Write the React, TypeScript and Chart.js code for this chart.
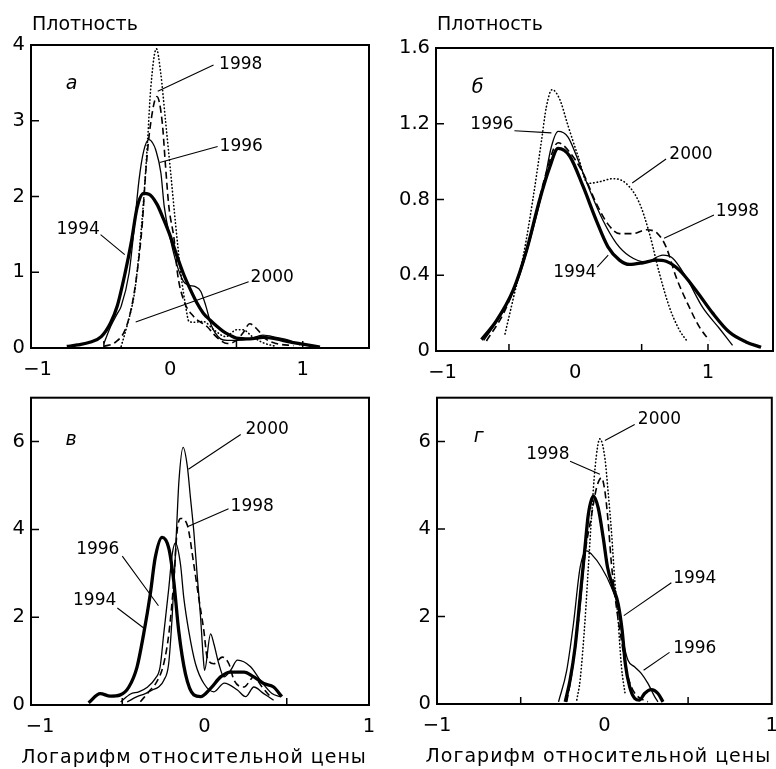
import React, { useEffect, useRef } from 'react';
import { Chart, registerables } from 'chart.js';
Chart.register(...registerables);

const FONT = '"DejaVu Sans", Verdana, sans-serif';
const Y_TITLE = 'Плотность';
const X_TITLE = 'Логарифм относительной цены';
const YEARS = ['2000', '1998', '1996', '1994'];

// ---------- Panel а ----------
const a1994X = [-0.78, -0.7, -0.6, -0.52, -0.45, -0.4, -0.34, -0.29, -0.25, -0.2, -0.16, -0.1, -0.05, 0.0, 0.05, 0.1, 0.15, 0.2, 0.25, 0.3, 0.35, 0.4, 0.45, 0.5, 0.6, 0.7, 0.8, 0.9, 1.0, 1.1, 1.13];
const a1994Y = [0.02, 0.04, 0.08, 0.15, 0.33, 0.55, 0.99, 1.43, 1.85, 2.04, 2.03, 1.9, 1.7, 1.48, 1.22, 0.98, 0.78, 0.6, 0.46, 0.37, 0.29, 0.22, 0.17, 0.13, 0.12, 0.14, 0.12, 0.08, 0.05, 0.02, 0.01];
const a1996X = [-0.5, -0.45, -0.4, -0.37, -0.31, -0.27, -0.235, -0.2, -0.16, -0.13, -0.11, -0.07, -0.045, 0.0, 0.05, 0.1, 0.14, 0.19, 0.23, 0.27, 0.31, 0.34, 0.38, 0.43, 0.5, 0.6, 0.7, 0.8, 0.9, 0.98];
const a1996Y = [0.06, 0.28, 0.45, 0.55, 0.99, 1.61, 2.22, 2.6, 2.75, 2.7, 2.62, 2.31, 1.87, 1.45, 1.1, 0.88, 0.83, 0.81, 0.75, 0.55, 0.3, 0.2, 0.12, 0.1, 0.1, 0.12, 0.17, 0.14, 0.1, 0.04];
const a1998X = [-0.5, -0.41, -0.34, -0.29, -0.25, -0.21, -0.185, -0.15, -0.1, -0.06, -0.035, -0.01, 0.03, 0.055, 0.1, 0.18, 0.28, 0.33, 0.38, 0.43, 0.5, 0.55, 0.6, 0.66, 0.72, 0.8, 0.93];
const a1998Y = [0.02, 0.08, 0.24, 0.55, 0.99, 1.65, 2.31, 2.93, 3.32, 2.98, 2.4, 1.87, 1.43, 0.99, 0.64, 0.41, 0.28, 0.18, 0.1, 0.06, 0.1, 0.2, 0.32, 0.24, 0.12, 0.06, 0.03];
const a2000X = [-0.37, -0.32, -0.27, -0.235, -0.2, -0.17, -0.147, -0.104, -0.072, -0.034, 0.004, 0.04, 0.08, 0.117, 0.142, 0.18, 0.25, 0.33, 0.42, 0.5, 0.55, 0.62, 0.7, 0.8];
const a2000Y = [0.02, 0.33, 0.72, 1.25, 1.96, 2.75, 3.42, 3.95, 3.64, 2.98, 2.31, 1.65, 0.99, 0.55, 0.35, 0.34, 0.35, 0.24, 0.15, 0.24, 0.24, 0.15, 0.07, 0.02];

// ---------- Panel б ----------
const b1994X = [-0.707, -0.594, -0.469, -0.368, -0.268, -0.193, -0.13, -0.043, 0.058, 0.158, 0.246, 0.333, 0.409, 0.509, 0.609, 0.684, 0.784, 0.91, 1.035, 1.16, 1.286, 1.4];
const b1994Y = [0.06, 0.16, 0.32, 0.53, 0.8, 0.97, 1.07, 1.03, 0.87, 0.69, 0.55, 0.48, 0.457, 0.466, 0.48, 0.474, 0.427, 0.32, 0.2, 0.1, 0.048, 0.02];
const b1996X = [-0.69, -0.57, -0.44, -0.34, -0.24, -0.18, -0.13, -0.055, 0.02, 0.108, 0.208, 0.308, 0.41, 0.53, 0.66, 0.734, 0.835, 0.96, 1.085, 1.185];
const b1996Y = [0.056, 0.18, 0.36, 0.59, 0.87, 1.08, 1.16, 1.13, 1.01, 0.85, 0.69, 0.57, 0.5, 0.47, 0.506, 0.49, 0.39, 0.23, 0.12, 0.03];
const b1998X = [-0.67, -0.54, -0.42, -0.32, -0.22, -0.13, -0.043, 0.058, 0.158, 0.246, 0.333, 0.434, 0.534, 0.62, 0.684, 0.76, 0.86, 0.935, 1.01];
const b1998Y = [0.053, 0.2, 0.41, 0.66, 0.94, 1.1, 1.05, 0.94, 0.78, 0.67, 0.62, 0.62, 0.64, 0.62, 0.55, 0.39, 0.23, 0.127, 0.056];
const b2000X = [-0.53, -0.47, -0.39, -0.32, -0.255, -0.218, -0.175, -0.118, -0.055, 0.02, 0.095, 0.183, 0.283, 0.383, 0.484, 0.559, 0.634, 0.71, 0.785, 0.847];
const b2000Y = [0.09, 0.27, 0.51, 0.8, 1.11, 1.29, 1.38, 1.33, 1.19, 1.03, 0.885, 0.894, 0.91, 0.885, 0.78, 0.62, 0.41, 0.23, 0.11, 0.048];

// ---------- Panel в ----------
const v1994X = [-0.705, -0.634, -0.573, -0.512, -0.46, -0.41, -0.37, -0.33, -0.3, -0.258, -0.217, -0.187, -0.157, -0.116, -0.065, -0.024, 0.037, 0.098, 0.159, 0.24, 0.3, 0.36, 0.42, 0.47];
const v1994Y = [0.05, 0.26, 0.2, 0.23, 0.41, 0.87, 1.62, 2.52, 3.35, 3.82, 3.57, 2.82, 1.69, 0.71, 0.23, 0.19, 0.38, 0.64, 0.75, 0.75, 0.64, 0.49, 0.41, 0.19];
const v1996X = [-0.51, -0.45, -0.4, -0.35, -0.3, -0.27, -0.248, -0.217, -0.197, -0.177, -0.146, -0.126, -0.096, -0.055, -0.004, 0.057, 0.12, 0.2, 0.25, 0.3, 0.36, 0.42];
const v1996Y = [0.07, 0.25, 0.3, 0.4, 0.6, 0.87, 1.62, 2.67, 3.42, 3.69, 3.2, 2.44, 1.69, 0.94, 0.49, 0.3, 0.5, 0.34, 0.19, 0.41, 0.26, 0.11];
const v1998X = [-0.39, -0.33, -0.29, -0.248, -0.217, -0.187, -0.167, -0.146, -0.105, -0.065, -0.035, -0.004, 0.016, 0.057, 0.108, 0.148, 0.18, 0.24, 0.3, 0.35, 0.4];
const v1998Y = [0.075, 0.34, 0.53, 0.94, 1.62, 2.82, 3.95, 4.25, 4.1, 3.2, 2.44, 1.69, 1.09, 0.94, 1.09, 0.94, 0.56, 0.41, 0.64, 0.41, 0.19];
const v2000X = [-0.47, -0.41, -0.36, -0.32, -0.279, -0.248, -0.218, -0.197, -0.18, -0.167, -0.156, -0.13, -0.105, -0.085, -0.065, -0.045, -0.024, -0.008, 0.0, 0.037, 0.057, 0.087, 0.118, 0.16, 0.2, 0.28, 0.34, 0.41, 0.46];
const v2000Y = [0.07, 0.19, 0.26, 0.34, 0.41, 0.56, 0.94, 2.0, 3.2, 4.25, 5.08, 5.87, 5.45, 4.7, 3.95, 2.97, 2.0, 1.09, 0.79, 1.62, 1.39, 0.94, 0.64, 0.8, 1.02, 0.87, 0.56, 0.26, 0.19];

// ---------- Panel г ----------
const g1994X = [-0.234, -0.205, -0.175, -0.145, -0.116, -0.096, -0.066, -0.037, -0.007, 0.019, 0.052, 0.082, 0.106, 0.125, 0.151, 0.181, 0.21, 0.24, 0.28, 0.32, 0.35];
const g1994Y = [0.05, 0.55, 1.3, 2.44, 3.58, 4.33, 4.75, 4.48, 3.8, 3.12, 2.67, 2.29, 1.68, 0.92, 0.39, 0.13, 0.09, 0.24, 0.33, 0.24, 0.05];
const g1996X = [-0.274, -0.225, -0.185, -0.145, -0.106, -0.076, -0.017, 0.042, 0.082, 0.112, 0.141, 0.18, 0.22, 0.26, 0.3, 0.32];
const g1996Y = [0.05, 0.77, 1.83, 3.12, 3.5, 3.42, 3.12, 2.67, 2.21, 1.45, 1.0, 0.85, 0.7, 0.47, 0.17, 0.05];
const g1998X = [-0.225, -0.195, -0.155, -0.116, -0.076, -0.047, -0.017, 0.003, 0.022, 0.042, 0.072, 0.102, 0.131, 0.161, 0.2, 0.26];
const g1998Y = [0.05, 0.7, 1.9, 3.42, 4.33, 4.94, 5.17, 4.86, 4.18, 3.2, 2.21, 1.45, 0.77, 0.39, 0.17, 0.05];
const g2000X = [-0.165, -0.145, -0.116, -0.096, -0.076, -0.056, -0.027, 0.003, 0.022, 0.042, 0.062, 0.082, 0.102, 0.125];
const g2000Y = [0.09, 0.55, 1.9, 3.12, 4.33, 5.39, 6.06, 5.62, 4.86, 3.95, 2.82, 1.9, 0.85, 0.2];

// tick labels
const xLabelValues = [-1, 0, 1];
const yLabelsA = [0, 1, 2, 3, 4];
const yLabelsB = [0, 0.4, 0.8, 1.2, 1.6];
const yLabelsVG = [0, 2, 4, 6];

// callouts in data coordinates: label centre, leader line start/end
type Callout = { year: string; tx: number; ty: number; x1: number; y1: number; x2: number; y2: number };
const calloutsA: Callout[] = [
  { year: '1998', tx: 0.532, ty: 3.735, x1: 0.327, y1: 3.735, x2: -0.094, y2: 3.39 },
  { year: '1996', tx: 0.536, ty: 2.66, x1: 0.358, y1: 2.66, x2: -0.079, y2: 2.45 },
  { year: '1994', tx: -0.694, ty: 1.563, x1: -0.525, y1: 1.497, x2: -0.343, y2: 1.232 },
  { year: '2000', tx: 0.77, ty: 0.927, x1: 0.592, y1: 0.874, x2: -0.26, y2: 0.344 },
];
const calloutsB: Callout[] = [
  { year: '1996', tx: -0.628, ty: 1.194, x1: -0.459, y1: 1.163, x2: -0.18, y2: 1.152 },
  { year: '2000', tx: 0.872, ty: 1.036, x1: 0.684, y1: 1.014, x2: 0.429, y2: 0.887 },
  { year: '1998', tx: 1.222, ty: 0.734, x1: 1.045, y1: 0.718, x2: 0.669, y2: 0.596 },
  { year: '1994', tx: -0.004, ty: 0.416, x1: 0.165, y1: 0.443, x2: 0.248, y2: 0.506 },
];
const calloutsV: Callout[] = [
  { year: '2000', tx: 0.381, ty: 6.275, x1: 0.22, y1: 6.16, x2: -0.098, y2: 5.37 },
  { year: '1998', tx: 0.29, ty: 4.51, x1: 0.146, y1: 4.47, x2: -0.104, y2: 4.06 },
  { year: '1996', tx: -0.649, ty: 3.54, x1: -0.5, y1: 3.39, x2: -0.28, y2: 2.26 },
  { year: '1994', tx: -0.668, ty: 2.39, x1: -0.53, y1: 2.21, x2: -0.372, y2: 1.76 },
];
const calloutsG: Callout[] = [
  { year: '2000', tx: 0.329, ty: 6.5, x1: 0.181, y1: 6.39, x2: 0.003, y2: 6.02 },
  { year: '1998', tx: -0.338, ty: 5.7, x1: -0.205, y1: 5.55, x2: -0.027, y2: 5.25 },
  { year: '1994', tx: 0.54, ty: 2.86, x1: 0.4, y1: 2.77, x2: 0.116, y2: 2.02 },
  { year: '1996', tx: 0.54, ty: 1.27, x1: 0.389, y1: 1.18, x2: 0.234, y2: 0.77 },
];

type LineStyle = { width: number; dash: number[]; cap: CanvasLineCap };
const THICK: LineStyle = { width: 3.3, dash: [], cap: 'butt' };
const THIN: LineStyle = { width: 1.3, dash: [], cap: 'butt' };
const DASHED: LineStyle = { width: 1.6, dash: [7, 4], cap: 'butt' };
const DOTTED: LineStyle = { width: 1.6, dash: [0.5, 3], cap: 'round' };
const STYLE: Record<string, LineStyle> = { '1994': THICK, '1996': THIN, '1998': DASHED, '2000': DOTTED };

type Panel = {
  key: string;
  letter: string;
  letterX: number;
  letterY: number;
  series: Record<string, [number[], number[]]>;
  styleOverride?: Record<string, LineStyle>;
  callouts: Callout[];
  xMin: number; xMax: number; yMax: number;
  yLabels: number[];
  xMarks: number[];
  yMarks: number[];
  yFmt: (v: number) => string;
  showYTitle: boolean;
  showXTitle: boolean;
  box: { left: number; top: number; w: number; h: number };
  pad: { top: number; right: number };
  yAxisW: number; xAxisH: number;
};

const intFmt = (v: number) => (v < 0 ? '\u2212' + Math.abs(v) : String(v));
const decFmt = (v: number) => (v === 0 ? '0' : v.toFixed(1));

const PANELS: Panel[] = [
  {
    key: 'a', letter: 'а', letterX: -0.743, letterY: 3.48,
    series: { '2000': [a2000X, a2000Y], '1998': [a1998X, a1998Y], '1996': [a1996X, a1996Y], '1994': [a1994X, a1994Y] },
    callouts: calloutsA, xMin: -1.05, xMax: 1.5, yMax: 4, yLabels: yLabelsA,
    xMarks: [-0.5, 0.5, 1], yMarks: [1, 2, 3], yFmt: intFmt, showYTitle: true, showXTitle: false,
    box: { left: 0, top: 0, w: 388, h: 380 }, pad: { top: 45, right: 19 }, yAxisW: 31, xAxisH: 32,
  },
  {
    key: 'b', letter: 'б', letterX: -0.737, letterY: 1.39,
    series: { '2000': [b2000X, b2000Y], '1998': [b1998X, b1998Y], '1996': [b1996X, b1996Y], '1994': [b1994X, b1994Y] },
    callouts: calloutsB, xMin: -1.05, xMax: 1.49, yMax: 1.6, yLabels: yLabelsB,
    xMarks: [-0.5, 0.5, 1], yMarks: [0.4, 0.8, 1.2], yFmt: decFmt, showYTitle: true, showXTitle: false,
    box: { left: 388, top: 0, w: 400, h: 380 }, pad: { top: 48, right: 15 }, yAxisW: 48, xAxisH: 29,
  },
  {
    key: 'v', letter: 'в', letterX: -0.811, letterY: 6.03,
    series: { '2000': [v2000X, v2000Y], '1998': [v1998X, v1998Y], '1996': [v1996X, v1996Y], '1994': [v1994X, v1994Y] },
    styleOverride: { '2000': THIN },
    callouts: calloutsV, xMin: -1.055, xMax: 1.0, yMax: 7, yLabels: yLabelsVG,
    xMarks: [-0.5, 0.5], yMarks: [2, 4, 6], yFmt: intFmt, showYTitle: false, showXTitle: true,
    box: { left: 0, top: 380, w: 388, h: 389 }, pad: { top: 14, right: 19 }, yAxisW: 31, xAxisH: 64,
  },
  {
    key: 'g', letter: 'г', letterX: -0.751, letterY: 6.11,
    series: { '2000': [g2000X, g2000Y], '1998': [g1998X, g1998Y], '1996': [g1996X, g1996Y], '1994': [g1994X, g1994Y] },
    callouts: calloutsG, xMin: -1.0, xMax: 1.0, yMax: 7, yLabels: yLabelsVG,
    xMarks: [-0.5, 0.5], yMarks: [2, 4, 6], yFmt: intFmt, showYTitle: false, showXTitle: true,
    box: { left: 388, top: 380, w: 400, h: 389 }, pad: { top: 14, right: 14 }, yAxisW: 49, xAxisH: 65,
  },
];

function overlay(p: Panel) {
  return {
    id: 'overlay_' + p.key,
    afterDraw(chart: any) {
      const { ctx, chartArea: ca, scales } = chart;
      const xs = scales.x, ys = scales.y;
      const X = (v: number) => xs.getPixelForValue(v);
      const Y = (v: number) => ys.getPixelForValue(v);
      ctx.save();
      ctx.strokeStyle = '#000';
      ctx.fillStyle = '#000';
      ctx.setLineDash([]);
      ctx.lineWidth = 2;
      ctx.strokeRect(ca.left, ca.top, ca.right - ca.left, ca.bottom - ca.top);
      ctx.lineWidth = 1.5;
      ctx.beginPath();
      p.xMarks.forEach((v) => { ctx.moveTo(X(v), ca.bottom); ctx.lineTo(X(v), ca.bottom - 7); });
      p.yMarks.forEach((v) => { ctx.moveTo(ca.left, Y(v)); ctx.lineTo(ca.left + 8, Y(v)); });
      ctx.stroke();
      ctx.lineWidth = 1.1;
      ctx.beginPath();
      p.callouts.forEach((c) => { ctx.moveTo(X(c.x1), Y(c.y1)); ctx.lineTo(X(c.x2), Y(c.y2)); });
      ctx.stroke();
      ctx.font = `17px ${FONT}`;
      ctx.textAlign = 'center';
      ctx.textBaseline = 'middle';
      p.callouts.forEach((c) => ctx.fillText(c.year, X(c.tx), Y(c.ty)));
      ctx.font = `italic 19px ${FONT}`;
      ctx.fillText(p.letter, X(p.letterX), Y(p.letterY));
      ctx.font = `19px ${FONT}`;
      if (p.showYTitle) {
        ctx.textAlign = 'left';
        ctx.textBaseline = 'middle';
        ctx.fillText(Y_TITLE, ca.left + 1, 25);
      }
      if (p.showXTitle) {
        ctx.textAlign = 'center';
        ctx.textBaseline = 'alphabetic';
        try { (ctx as any).letterSpacing = '1px'; } catch (e) { /* ignore */ }
        ctx.fillText(X_TITLE, (ca.left + ca.right) / 2 - 6, ca.bottom + 58);
        try { (ctx as any).letterSpacing = '0px'; } catch (e) { /* ignore */ }
      }
      ctx.restore();
    },
  };
}

function PanelChart({ p }: { p: Panel }) {
  const ref = useRef<HTMLCanvasElement>(null);
  useEffect(() => {
    if (!ref.current) return;
    const datasets = YEARS.map((yr) => {
      const [xsArr, ysArr] = p.series[yr];
      const st = (p.styleOverride && p.styleOverride[yr]) || STYLE[yr];
      return {
        label: yr,
        data: xsArr.map((x, i) => ({ x, y: ysArr[i] })),
        showLine: true,
        borderColor: '#000',
        backgroundColor: '#000',
        borderWidth: st.width,
        borderDash: st.dash,
        borderCapStyle: st.cap,
        borderJoinStyle: 'round',
        pointRadius: 0,
        cubicInterpolationMode: 'monotone',
        fill: false,
      };
    });
    const tickFont = { family: FONT, size: 19.5 };
    const chart = new Chart(ref.current, {
      type: 'scatter',
      data: { datasets } as any,
      options: {
        responsive: false,
        animation: false,
        devicePixelRatio: 1,
        events: [],
        layout: { padding: { top: p.pad.top, right: p.pad.right, left: 0, bottom: 0 } },
        plugins: { legend: { display: false }, tooltip: { enabled: false } },
        scales: {
          x: {
            type: 'linear',
            min: p.xMin,
            max: p.xMax,
            grid: { display: false, drawTicks: false },
            border: { display: false },
            afterBuildTicks: (s: any) => { s.ticks = xLabelValues.map((v) => ({ value: v })); },
            afterFit: (s: any) => { s.height = p.xAxisH; },
            ticks: { padding: 10, color: '#000', font: tickFont, maxRotation: 0, autoSkip: false, callback: (v: any) => intFmt(Number(v)) },
          },
          y: {
            type: 'linear',
            min: 0,
            max: p.yMax,
            grid: { display: false, drawTicks: false },
            border: { display: false },
            afterBuildTicks: (s: any) => { s.ticks = p.yLabels.map((v) => ({ value: v })); },
            afterFit: (s: any) => { s.width = p.yAxisW; },
            ticks: { padding: 6, color: '#000', font: tickFont, autoSkip: false, callback: (v: any) => p.yFmt(Number(v)) },
          },
        },
      } as any,
      plugins: [overlay(p)],
    });
    return () => chart.destroy();
  }, [p]);
  return (
    <canvas
      ref={ref}
      width={p.box.w}
      height={p.box.h}
      style={{ position: 'absolute', left: p.box.left, top: p.box.top, width: p.box.w, height: p.box.h }}
    />
  );
}

export default function App() {
  return (
    <div style={{ position: 'absolute', left: 0, top: 0, width: 776, height: 769, overflow: 'hidden', background: '#fff' }}>
      {PANELS.map((p) => (
        <PanelChart key={p.key} p={p} />
      ))}
    </div>
  );
}
